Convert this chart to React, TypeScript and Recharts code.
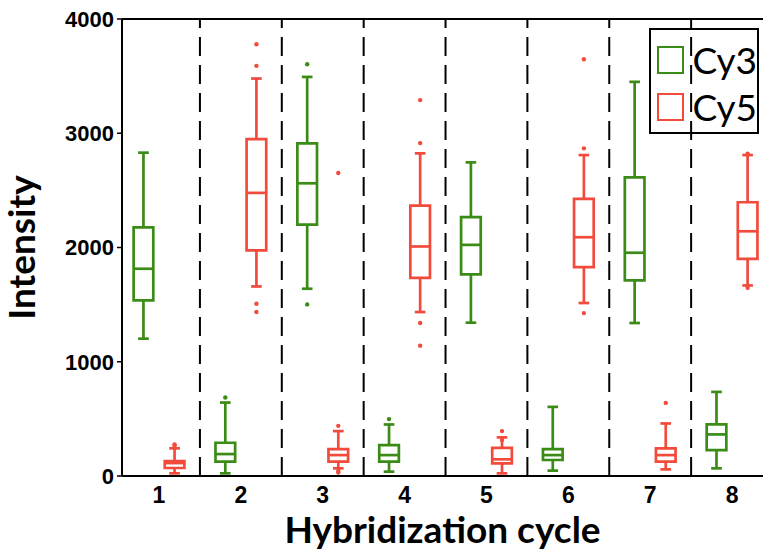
import React from 'react'
import {
  ComposedChart,
  Scatter,
  XAxis,
  YAxis,
  ReferenceArea,
  ReferenceLine,
} from 'recharts'

// hybridization cycles on the x axis
const cycles = [1, 2, 3, 4, 5, 6, 7, 8]
const yTicks = [0, 1000, 2000, 3000, 4000]

// Cy3 box statistics per cycle
const cy3Min = [1202, 23, 1639, 38, 1342, 47, 1339, 67]
const cy3Q1 = [1537, 125, 2201, 125, 1764, 140, 1712, 227]
const cy3Median = [1814, 192, 2562, 183, 2023, 183, 1954, 364]
const cy3Q3 = [2177, 291, 2911, 271, 2265, 236, 2614, 451]
const cy3Max = [2830, 643, 3493, 451, 2745, 605, 3450, 736]
const cy3Outliers = [[], [687], [3604, 1502], [498], [], [], [], []]

// Cy5 box statistics per cycle
const cy5Min = [23, 1659, 67, 1435, 23, 1514, 58, 1668]
const cy5Q1 = [70, 1974, 125, 1735, 111, 1828, 125, 1901]
const cy5Median = [113, 2478, 183, 2009, 146, 2090, 183, 2142]
const cy5Q3 = [131, 2949, 236, 2367, 247, 2425, 242, 2396]
const cy5Max = [242, 3479, 393, 2824, 338, 2809, 460, 2809]
const cy5Outliers = [
  [277, 265],
  [3779, 3590, 1508, 1435],
  [2652, 439, 44, 30],
  [3290, 2914, 1339, 1141],
  [393, 315],
  [3648, 2868, 1426],
  [640],
  [2820, 1648],
]

const GREEN = '#3b8c16'
const RED = '#f24b3c'
const OFFSET = 0.19 // box shift from cycle centre
const HALF = 0.12 // half box width
const CAP = 0.065 // half whisker cap width

const numFont = '"Liberation Sans", Arial, sans-serif'
const titleFamily = 'Lato, "Open Sans", sans-serif'
const titleFont = { fontFamily: titleFamily, fontWeight: 700, fontSize: 37, fill: '#000' }

function outlierData(outliers: number[][], shift: number) {
  const pts: { x: number; y: number }[] = []
  outliers.forEach((list, i) => list.forEach((v) => pts.push({ x: cycles[i] + shift, y: v })))
  return pts
}

function boxes(
  mins: number[], q1: number[], med: number[], q3: number[], maxs: number[],
  shift: number, color: string, key: string
) {
  const out: React.ReactNode[] = []
  cycles.forEach((c, i) => {
    const x = c + shift
    const common = { stroke: color, strokeWidth: 2.7, ifOverflow: 'visible' as const }
    out.push(
      <ReferenceLine key={`${key}-lw${i}`} segment={[{ x, y: mins[i] }, { x, y: q1[i] }]} {...common} />,
      <ReferenceLine key={`${key}-uw${i}`} segment={[{ x, y: q3[i] }, { x, y: maxs[i] }]} {...common} />,
      <ReferenceLine key={`${key}-lc${i}`} segment={[{ x: x - CAP, y: mins[i] }, { x: x + CAP, y: mins[i] }]} {...common} />,
      <ReferenceLine key={`${key}-uc${i}`} segment={[{ x: x - CAP, y: maxs[i] }, { x: x + CAP, y: maxs[i] }]} {...common} />,
      <ReferenceArea key={`${key}-box${i}`} x1={x - HALF} x2={x + HALF} y1={q1[i]} y2={q3[i]}
        fill="#fff" fillOpacity={1} stroke={color} strokeWidth={2.7} ifOverflow="visible" />,
      <ReferenceLine key={`${key}-md${i}`} segment={[{ x: x - HALF, y: med[i] }, { x: x + HALF, y: med[i] }]} {...common} />
    )
  })
  return out
}

function LegendBox() {
  const item = (color: string, label: string) => (
    <div style={{ display: 'flex', alignItems: 'center', height: 47 }}>
      <div style={{ width: 24, height: 24, border: `2.5px solid ${color}`, marginRight: 8 }} />
      <span style={{ fontFamily: titleFamily, fontSize: 37, color: '#000', lineHeight: 1 }}>{label}</span>
    </div>
  )
  return (
    <div style={{
      position: 'absolute', left: 649, top: 28, width: 110, height: 106,
      border: '2px solid #000', padding: '6px 0 0 6px', boxSizing: 'border-box',
    }}>
      {item(GREEN, 'Cy3')}
      {item(RED, 'Cy5')}
    </div>
  )
}

export default function App() {
  const cy3Pts = outlierData(cy3Outliers, -OFFSET)
  const cy5Pts = outlierData(cy5Outliers, OFFSET)
  return (
    <div style={{ position: 'absolute', left: 0, top: 0, width: 763, height: 557, overflow: 'hidden', background: '#fff' }}>
      <ComposedChart width={763} height={557} margin={{ top: 19, right: 0, left: 0, bottom: 0 }}>
        <XAxis
          type="number"
          dataKey="x"
          domain={[0.548, 8.378]}
          ticks={cycles}
          allowDataOverflow
          tickLine={false}
          axisLine={{ stroke: '#000', strokeWidth: 2 }}
          tick={{ fontFamily: numFont, fontWeight: 700, fontSize: 23, fill: '#000' }}
          tickMargin={5}
          height={81}
          label={{ value: 'Hybridization cycle', position: 'insideBottom', offset: 14, style: titleFont }}
        />
        <YAxis
          type="number"
          dataKey="y"
          domain={[0, 4000]}
          ticks={yTicks}
          allowDataOverflow
          tickSize={5}
          tickMargin={3}
          tickLine={{ stroke: '#000', strokeWidth: 1.5 }}
          axisLine={{ stroke: '#000', strokeWidth: 2 }}
          tick={{ fontFamily: numFont, fontWeight: 700, fontSize: 22, fill: '#000' }}
          width={122}
          label={{ value: 'Intensity', angle: -90, position: 'insideLeft', offset: 22, style: { ...titleFont, textAnchor: 'middle' } }}
        />
        <ReferenceLine y={4000} stroke="#000" strokeWidth={2} ifOverflow="visible" />
        {cycles.slice(0, -1).map((c) => (
          <ReferenceLine key={`sep${c}`} x={c + 0.5} stroke="#000" strokeWidth={2} strokeDasharray="19 9" />
        ))}
        {boxes(cy3Min, cy3Q1, cy3Median, cy3Q3, cy3Max, -OFFSET, GREEN, 'cy3')}
        {boxes(cy5Min, cy5Q1, cy5Median, cy5Q3, cy5Max, OFFSET, RED, 'cy5')}
        <Scatter name="Cy3" data={cy3Pts} fill={GREEN} isAnimationActive={false}
          shape={(p: any) => <circle cx={p.cx} cy={p.cy} r={2.2} fill={GREEN} />} />
        <Scatter name="Cy5" data={cy5Pts} fill={RED} isAnimationActive={false}
          shape={(p: any) => <circle cx={p.cx} cy={p.cy} r={2.2} fill={RED} />} />
      </ComposedChart>
      <LegendBox />
    </div>
  )
}
